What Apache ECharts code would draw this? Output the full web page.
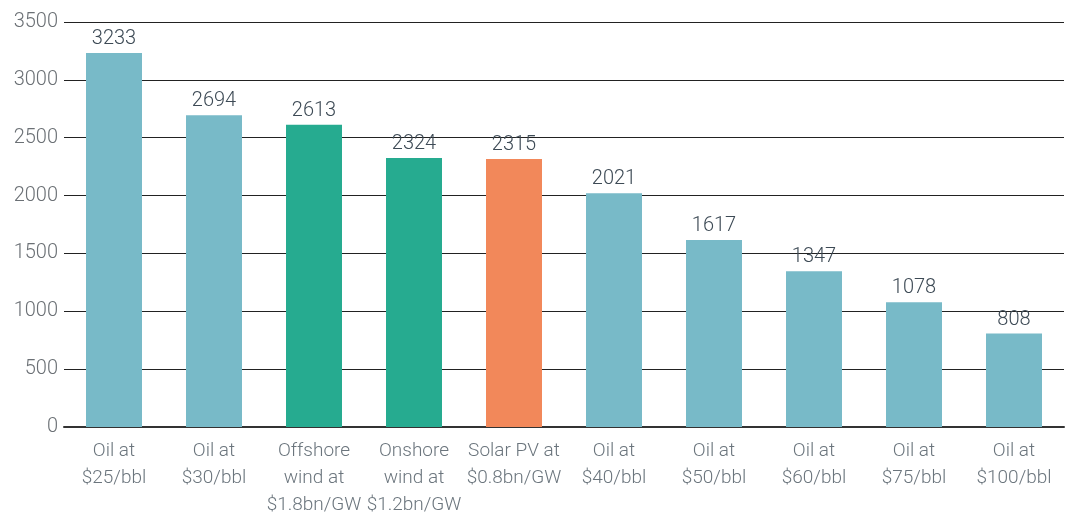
<!DOCTYPE html>
<html>
<head>
<meta charset="utf-8">
<script src="https://cdn.jsdelivr.net/npm/echarts@6/dist/echarts.min.js"></script>
<style>
  html, body { margin: 0; padding: 0; background: #fff; }
  #chart { width: 1067px; height: 517px; }
</style>
</head>
<body>
<div id="chart"></div>
<script>
const categories = [
    'Oil at\n$25/bbl', 'Oil at\n$30/bbl', 'Offshore\nwind at\n$1.8bn/GW',
    'Onshore\nwind at\n$1.2bn/GW', 'Solar PV at\n$0.8bn/GW', 'Oil at\n$40/bbl',
    'Oil at\n$50/bbl', 'Oil at\n$60/bbl', 'Oil at\n$75/bbl', 'Oil at\n$100/bbl'
];
const values = [3233, 2694, 2613, 2324, 2315, 2021, 1617, 1347, 1078, 808];
const kinds = ['oil', 'oil', 'wind', 'wind', 'solar', 'oil', 'oil', 'oil', 'oil', 'oil'];

const colors = { oil: '#78bac8', wind: '#26ab90', solar: '#f2885a' };
const fontFamily = 'Roboto, "Noto Sans", sans-serif';

const chart = echarts.init(document.getElementById('chart'));
chart.setOption({
    animation: false,
    grid: {
        left: 64,
        right: 3,
        top: 22,
        bottom: 90,
        containLabel: false,
        outerBoundsMode: 'none'
    },
    xAxis: {
        type: 'category',
        data: categories,
        axisTick: { show: false },
        axisLine: {
            lineStyle: { color: '#333', width: 2 }
        },
        axisLabel: {
            color: '#6b757d',
            fontFamily: fontFamily,
            fontWeight: 300,
            fontSize: 19,
            lineHeight: 27,
            margin: 11,
            interval: 0
        }
    },
    yAxis: {
        type: 'value',
        min: 0,
        max: 3500,
        interval: 500,
        axisLine: { show: false },
        axisTick: { show: false },
        splitLine: {
            lineStyle: { color: '#222', width: 1 }
        },
        axisLabel: {
            color: '#6b7075',
            fontFamily: fontFamily,
            fontWeight: 300,
            fontSize: 20,
            margin: 6,
            formatter: v => String(v)
        }
    },
    series: [{
        type: 'bar',
        barWidth: 56,
        data: values.map((v, i) => ({
            value: v,
            itemStyle: { color: colors[kinds[i]] }
        })),
        label: {
            show: true,
            position: 'top',
            distance: 4,
            color: '#3d4a55',
            fontFamily: fontFamily,
            fontWeight: 300,
            fontSize: 20
        }
    }]
});
</script>
</body>
</html>
